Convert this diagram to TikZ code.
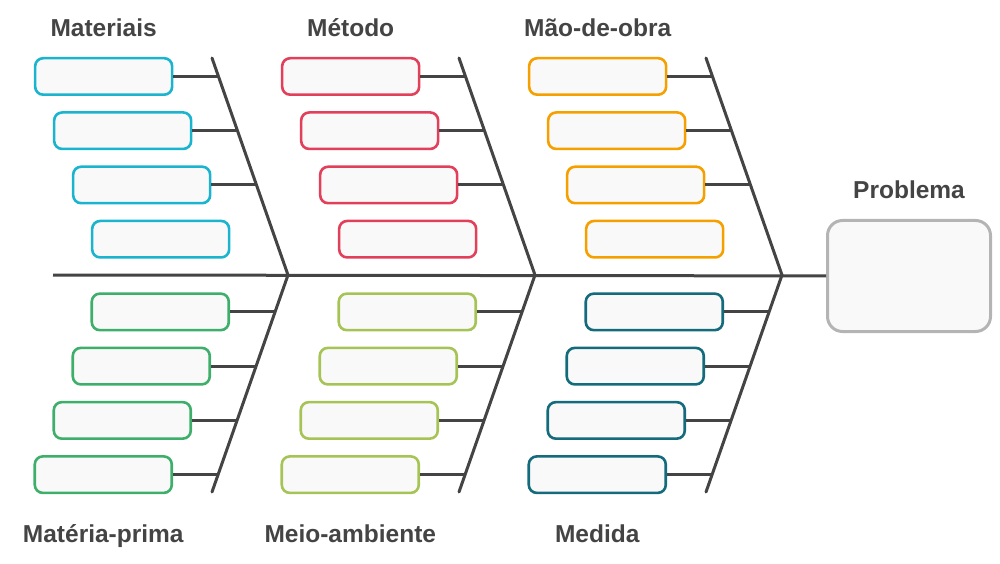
\documentclass[tikz,border=0pt]{standalone}
\usepackage{fontspec}
\setmainfont{Liberation Sans}
\usetikzlibrary{positioning}
\usetikzlibrary{calc}

\definecolor{ink}{HTML}{444444}
\definecolor{boxfill}{HTML}{F9F9F9}
\definecolor{probgray}{HTML}{B4B4B4}
\definecolor{cMat}{HTML}{1BB4CF}
\definecolor{cMet}{HTML}{E2405A}
\definecolor{cMao}{HTML}{F6A000}
\definecolor{cPrima}{HTML}{3EAF6B}
\definecolor{cMeio}{HTML}{A6C455}
\definecolor{cMed}{HTML}{146B7B}

\begin{document}
\begin{tikzpicture}[x=1pt,y=1pt,node distance=45pt,
    cause/.style={draw, line width=2.6pt, rounded corners=8pt, fill=boxfill, minimum width=137pt, minimum height=36.5pt, inner sep=0pt},
    bone/.style={draw=ink, line width=3pt, line cap=round},
    tick/.style={draw=ink, line width=3pt},
    lbl/.style={font=\bfseries\fontsize{24.5}{28}\selectfont, text=ink}]
        \useasboundingbox (0,0) rectangle (1000,563);

        \node [cause, draw=probgray, line width=3pt, rounded corners=15pt, minimum width=163pt, minimum height=111pt] (P) at (909,287) {};
        \node [lbl, above=20pt of P, anchor=base] (Pl) {Problema};
        \coordinate (L) at (53,288);
        \draw [tick] (L) -- (P);

        \foreach \g/\tup/\tdn/\ct/\cb in {0/Materiais/Matéria-prima/cMat/cPrima, 1/Método/Meio-ambiente/cMet/cMeio, 2/Mão-de-obra/Medida/cMao/cMed} {
            \coordinate (A\g) at (288+247*\g,288);
            \coordinate (T\g) at (212+247*\g,505);
            \coordinate (B\g) at (212+247*\g,71);
            \draw [bone] (T\g) -- (A\g) -- (B\g);
            \foreach \i in {1,...,4} {
                \coordinate (t\g\i) at ($(A\g)!{0.915-0.25*(\i-1)}!(T\g)$);
                \node [cause, draw=\ct, left=of t\g\i] (u\g\i) {};
                \coordinate (b\g\i) at ($(A\g)!{0.17+0.25*(\i-1)}!(B\g)$);
                \node [cause, draw=\cb, left=of b\g\i] (d\g\i) {};
                \draw [tick] (d\g\i) -- (b\g\i);
            }
            \foreach \i in {1,2,3} \draw [tick] (u\g\i) -- (t\g\i);
            \node [lbl, above=20pt of u\g1, anchor=base] (ul\g) {\tup};
            \node [lbl, below=48pt of d\g4, anchor=base] (dl\g) {\tdn};
        }
    \end{tikzpicture}
\end{document}
